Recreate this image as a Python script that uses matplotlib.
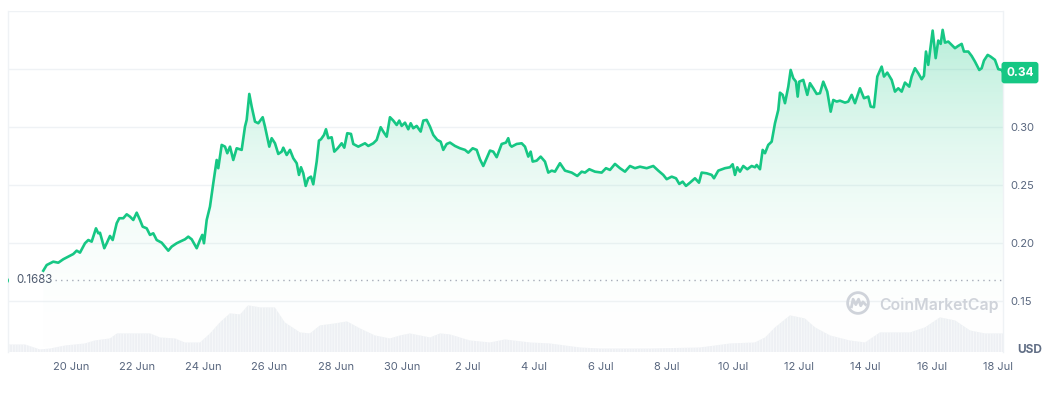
import numpy as np
import matplotlib.pyplot as plt
from matplotlib.colors import LinearSegmentedColormap
from matplotlib.patches import Circle

plt.rcParams['font.family'] = ['Inter', 'DejaVu Sans']
plt.rcParams['hatch.linewidth'] = 0.6

# --------------------------------------------------
# Data (time in days counted from 18 Jun 00:00)
# --------------------------------------------------
price_days = [
    1.163, 1.266, 1.465, 1.616, 1.767, 1.918, 2.069, 2.172, 2.272, 2.423,
    2.523, 2.625, 2.755, 2.825, 2.876, 3.006, 3.079, 3.178, 3.260, 3.381,
    3.459, 3.580, 3.683, 3.782, 3.882, 3.985, 4.085, 4.166, 4.287, 4.387,
    4.486, 4.589, 4.740, 4.840, 4.940, 5.042, 5.193, 5.293, 5.444, 5.544,
    5.647, 5.798, 5.897, 5.967, 6.018, 6.100, 6.199, 6.299, 6.402, 6.450,
    6.553, 6.653, 6.722, 6.804, 6.903, 7.006, 7.157, 7.257, 7.308, 7.387,
    7.459, 7.559, 7.659, 7.792, 7.861, 7.991, 8.063, 8.163, 8.263, 8.366,
    8.414, 8.517, 8.616, 8.716, 8.819, 8.888, 8.949, 9.018, 9.091, 9.169,
    9.251, 9.320, 9.423, 9.492, 9.553, 9.644, 9.704, 9.773, 9.876, 9.955,
    10.057, 10.178, 10.257, 10.347, 10.459, 10.529, 10.680, 10.782, 10.882, 10.982,
    11.133, 11.236, 11.356, 11.435, 11.538, 11.637, 11.737, 11.840, 11.918, 11.991,
    12.091, 12.190, 12.263, 12.341, 12.444, 12.565, 12.644, 12.746, 12.846, 12.946,
    13.066, 13.169, 13.248, 13.350, 13.450, 13.601, 13.752, 13.903, 14.003, 14.136,
    14.257, 14.356, 14.456, 14.559, 14.659, 14.758, 14.861, 15.012, 15.142, 15.211,
    15.263, 15.314, 15.465, 15.616, 15.716, 15.816, 15.888, 15.949, 16.069, 16.190,
    16.320, 16.420, 16.523, 16.622, 16.773, 16.924, 17.127, 17.296, 17.429, 17.529,
    17.659, 17.831, 18.033, 18.163, 18.284, 18.435, 18.586, 18.737, 18.888, 19.039,
    19.190, 19.393, 19.592, 19.743, 19.894, 19.997, 20.148, 20.278, 20.378, 20.480,
    20.580, 20.701, 20.852, 20.973, 21.054, 21.205, 21.356, 21.426, 21.556, 21.758,
    21.909, 21.991, 22.060, 22.130, 22.211, 22.311, 22.432, 22.565, 22.665, 22.716,
    22.816, 22.897, 22.967, 23.066, 23.169, 23.269, 23.369, 23.420, 23.502, 23.571,
    23.671, 23.743, 23.822, 23.903, 23.955, 24.003, 24.124, 24.245, 24.326, 24.426,
    24.529, 24.628, 24.728, 24.849, 24.952, 25.030, 25.133, 25.233, 25.384, 25.483,
    25.586, 25.686, 25.837, 25.958, 26.088, 26.160, 26.260, 26.360, 26.492, 26.562,
    26.662, 26.795, 26.894, 26.994, 27.097, 27.196, 27.326, 27.399, 27.498, 27.598,
    27.701, 27.770, 27.831, 27.900, 28.033, 28.124, 28.202, 28.275, 28.335, 28.405,
    28.505, 28.607, 28.707, 28.807, 28.909, 28.979, 29.109, 29.211, 29.311, 29.441,
    29.514, 29.583, 29.695, 29.785, 29.915, 30.015, 30.118, 30.166,
]
price_usd = [
    0.1761, 0.1810, 0.1839, 0.1830, 0.1860, 0.1882, 0.1905, 0.1934, 0.1917, 0.1998,
    0.2026, 0.2012, 0.2127, 0.2084, 0.2089, 0.1955, 0.1998, 0.2061, 0.2026, 0.2171,
    0.2214, 0.2214, 0.2248, 0.2228, 0.2199, 0.2262, 0.2199, 0.2141, 0.2127, 0.2070,
    0.2084, 0.2026, 0.2003, 0.1969, 0.1934, 0.1969, 0.1998, 0.2012, 0.2032, 0.2055,
    0.2032, 0.1955, 0.2026, 0.2070, 0.1998, 0.2199, 0.2314, 0.2516, 0.2717, 0.2646,
    0.2847, 0.2832, 0.2775, 0.2832, 0.2717, 0.2818, 0.2804, 0.3005, 0.3063, 0.3287,
    0.3178, 0.3048, 0.3034, 0.3086, 0.3005, 0.2832, 0.2905, 0.2861, 0.2769, 0.2789,
    0.2823, 0.2760, 0.2804, 0.2732, 0.2689, 0.2588, 0.2654, 0.2602, 0.2493, 0.2559,
    0.2573, 0.2507, 0.2703, 0.2884, 0.2896, 0.2933, 0.2982, 0.2905, 0.2913, 0.2789,
    0.2818, 0.2861, 0.2823, 0.2948, 0.2942, 0.2855, 0.2832, 0.2847, 0.2861, 0.2838,
    0.2861, 0.2890, 0.3000, 0.2962, 0.2918, 0.3086, 0.3057, 0.3019, 0.3057, 0.3011,
    0.3039, 0.2982, 0.3034, 0.2991, 0.3011, 0.2962, 0.3057, 0.3063, 0.3005, 0.2933,
    0.2890, 0.2875, 0.2804, 0.2855, 0.2867, 0.2838, 0.2818, 0.2804, 0.2780, 0.2818,
    0.2804, 0.2723, 0.2665, 0.2732, 0.2798, 0.2789, 0.2741, 0.2855, 0.2867, 0.2905,
    0.2847, 0.2832, 0.2855, 0.2861, 0.2832, 0.2746, 0.2789, 0.2703, 0.2711, 0.2746,
    0.2703, 0.2608, 0.2625, 0.2616, 0.2689, 0.2625, 0.2608, 0.2579, 0.2616, 0.2608,
    0.2637, 0.2616, 0.2608, 0.2646, 0.2631, 0.2683, 0.2646, 0.2616, 0.2665, 0.2646,
    0.2659, 0.2646, 0.2665, 0.2625, 0.2588, 0.2551, 0.2573, 0.2559, 0.2510, 0.2530,
    0.2493, 0.2521, 0.2559, 0.2521, 0.2608, 0.2602, 0.2588, 0.2559, 0.2625, 0.2646,
    0.2654, 0.2680, 0.2588, 0.2654, 0.2616, 0.2665, 0.2637, 0.2665, 0.2654, 0.2674,
    0.2637, 0.2804, 0.2775, 0.2847, 0.2875, 0.3034, 0.3149, 0.3298, 0.3279, 0.3207,
    0.3350, 0.3494, 0.3423, 0.3393, 0.3264, 0.3393, 0.3408, 0.3279, 0.3380, 0.3336,
    0.3287, 0.3293, 0.3393, 0.3307, 0.3134, 0.3235, 0.3221, 0.3229, 0.3212, 0.3221,
    0.3279, 0.3207, 0.3336, 0.3250, 0.3264, 0.3178, 0.3172, 0.3437, 0.3523, 0.3437,
    0.3471, 0.3408, 0.3307, 0.3336, 0.3307, 0.3385, 0.3350, 0.3437, 0.3509, 0.3466,
    0.3414, 0.3443, 0.3653, 0.3538, 0.3834, 0.3596, 0.3748, 0.3719, 0.3840, 0.3730,
    0.3739, 0.3710, 0.3682, 0.3702, 0.3719, 0.3653, 0.3653, 0.3615, 0.3566, 0.3494,
    0.3509, 0.3575, 0.3624, 0.3609, 0.3581, 0.3501, 0.3494, 0.3471,
]
open_day = 0.0
open_price = 0.1683
last_label = "0.34"

# relative trading volume (no scale shown on the chart)
vol_days = [
    0.10, 0.61, 1.06, 1.37, 1.82, 2.42, 2.72, 3.18, 3.39, 4.08,
    4.39, 4.69, 5.14, 5.44, 5.90, 6.20, 6.50, 6.80, 7.11, 7.35,
    7.71, 8.16, 8.46, 8.92, 9.22, 9.52, 9.98, 10.34, 10.73, 11.18,
    11.64, 11.94, 12.24, 12.85, 13.15, 13.45, 14.05, 14.66, 15.11, 15.87,
    16.47, 17.38, 17.98, 19.49, 21.00, 21.91, 22.66, 22.97, 23.27, 23.72,
    24.17, 24.48, 24.93, 25.53, 25.99, 26.44, 27.35, 27.80, 28.25, 28.71,
    29.16, 29.61, 30.07, 30.16,
]
vol_rel = [
    8, 8, 3, 4, 7, 9, 12, 14, 19, 19,
    19, 15, 14, 10, 10, 19, 30, 39, 38, 47,
    45, 45, 30, 20, 19, 27, 29, 31, 24, 17,
    14, 17, 19, 15, 19, 18, 12, 10, 13, 10,
    9, 5, 4, 4, 5, 9, 10, 15, 25, 37,
    34, 25, 17, 12, 10, 20, 20, 25, 35, 32,
    22, 19, 19, 19,
]

tick_days = [2, 4, 6, 8, 10, 12, 14, 16, 18, 20, 22, 24, 26, 28, 30]
tick_labels = ["20 Jun", "22 Jun", "24 Jun", "26 Jun", "28 Jun", "30 Jun", "2 Jul",
               "4 Jul", "6 Jul", "8 Jul", "10 Jul", "12 Jul", "14 Jul", "16 Jul", "18 Jul"]
price_ticks = [0.15, 0.20, 0.25, 0.30, 0.35, 0.40]
price_tick_labels = ["0.15", "0.20", "0.25", "0.30", "", ""]

GREEN = "#16c784"
GREY_TEXT = "#58667e"
GRID = "#eff2f5"
MARK = "#cfd3da"

days = np.array(price_days)
prices = np.array(price_usd)
x0, x1 = 0.097, 30.157
y0, y1 = 0.1055, 0.4003

# --------------------------------------------------
# Figure
# --------------------------------------------------
fig = plt.figure(figsize=(10.48, 3.97), dpi=100)
ax = fig.add_axes([0.00763, 0.1121, 0.9494, 0.8602])
ax.set_xlim(x0, x1)
ax.set_ylim(y0, y1)

for s in ["top", "bottom"]:
    ax.spines[s].set_visible(False)
for s in ["left", "right"]:
    ax.spines[s].set_color(GRID)
    ax.spines[s].set_linewidth(1)

ax.set_yticks(price_ticks)
ax.set_yticklabels(price_tick_labels)
ax.yaxis.tick_right()
ax.grid(axis="y", color=GRID, linewidth=1)
ax.set_axisbelow(True)
ax.tick_params(axis="y", length=0, pad=5, labelsize=8, labelcolor=GREY_TEXT)

ax.set_xticks(tick_days)
ax.set_xticklabels(tick_labels)
ax.tick_params(axis="x", length=0, pad=7, labelsize=8, labelcolor=GREY_TEXT)

# volume at the bottom (striped like hourly bars)
vol = np.array(vol_rel, dtype=float)
vol_top = vol.max() / 0.138
ax.fill_between(vol_days, 0, vol / vol_top, transform=ax.get_xaxis_transform(),
                facecolor="#eef0f4", edgecolor="#f8f9fb", hatch="||||||",
                linewidth=0, zorder=1)

# gradient under the price line
cmap = LinearSegmentedColormap.from_list(
    "fade", [(1, 1, 1, 0), (22 / 255, 199 / 255, 132 / 255, 0.34)])
grad = np.linspace(0, 1, 256).reshape(-1, 1)
im = ax.imshow(grad, extent=[x0, x1, y0, y1], origin="lower", aspect="auto",
               cmap=cmap, zorder=2, interpolation="bilinear")
poly = ax.fill_between(days, y0, prices, color="none", linewidth=0)
im.set_clip_path(poly.get_paths()[0], transform=ax.transData)

# opening price reference
ax.plot([1.52, x1], [open_price, open_price], color="#a6acb8",
        linestyle=(0, (1, 3)), linewidth=1, zorder=3)
ax.text(0.008, open_price, f"{open_price:.4f}", transform=ax.get_yaxis_transform(),
        ha="left", va="center", fontsize=8.3, color="#4f5b70", zorder=4)
ax.plot([open_day], [open_price], marker="o", markersize=4, color=GREEN, zorder=4)

# price line
ax.plot(days, prices, color=GREEN, linewidth=1.9, zorder=5, solid_joinstyle="round")

# current price tag
ax.annotate(last_label, xy=(1.0171, prices[-1]), xycoords=ax.get_yaxis_transform(),
            ha="center", va="center", fontsize=8.5, fontweight="bold", color="white",
            annotation_clip=False, zorder=6,
            bbox=dict(boxstyle="round,pad=0.4,rounding_size=0.25", fc=GREEN, ec="none"))

fig.text(1017 / 1048, 1 - 350 / 397, "USD", ha="left", va="center",
         fontsize=8.5, fontweight="bold", color="#616e85")

# watermark
fig.text(879 / 1048, 1 - 305 / 397, "CoinMarketCap", ha="left", va="center",
         fontsize=11.4, fontweight="semibold", color=MARK)
logo = fig.add_axes([846 / 1048, 1 - 315 / 397, 24 / 1048, 24 / 397])
logo.set_xlim(-1.1, 1.1)
logo.set_ylim(-1.1, 1.1)
logo.set_aspect("equal")
logo.axis("off")
logo.add_patch(Circle((0, 0), 0.95, fill=False, ec=MARK, lw=2))
logo.plot([-0.6, -0.45, -0.2, 0.05, 0.25, 0.45, 0.7],
          [-0.35, 0.35, -0.15, 0.35, -0.25, 0.1, -0.15],
          color=MARK, lw=2, solid_joinstyle="round")

fig.savefig("out.png", dpi=100)
